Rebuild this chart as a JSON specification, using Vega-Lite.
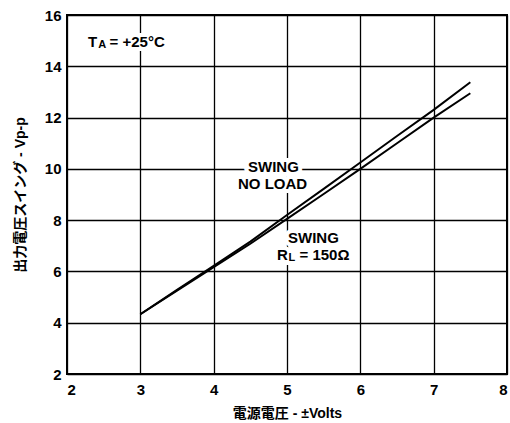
{
  "$schema": "https://vega.github.io/schema/vega-lite/v6.json",
  "width": 440,
  "height": 359,
  "autosize": {"type": "none"},
  "padding": {"left": 67, "top": 15, "right": 3, "bottom": 49},
  "background": "white",
  "config": {
    "view": {"stroke": "black", "strokeWidth": 2},
    "font": "Liberation Sans, Noto Sans CJK JP, sans-serif",
    "axis": {
      "grid": true,
      "gridColor": "black",
      "gridWidth": 1.3,
      "gridOpacity": 1,
      "domain": false,
      "ticks": false,
      "labelFont": "Liberation Sans, Noto Sans CJK JP, sans-serif",
      "labelFontWeight": "bold",
      "labelFontSize": 15,
      "labelColor": "black",
      "titleFont": "Liberation Sans, Noto Sans CJK JP, sans-serif",
      "titleFontWeight": "bold",
      "titleFontSize": 14,
      "titleColor": "black"
    }
  },
  "datasets": {
    "curves": [
      {"x": 3, "y": 4.33, "series": "NO LOAD"},
      {"x": 3.5, "y": 5.28, "series": "NO LOAD"},
      {"x": 4, "y": 6.22, "series": "NO LOAD"},
      {"x": 4.5, "y": 7.16, "series": "NO LOAD"},
      {"x": 5, "y": 8.2, "series": "NO LOAD"},
      {"x": 5.5, "y": 9.22, "series": "NO LOAD"},
      {"x": 6, "y": 10.25, "series": "NO LOAD"},
      {"x": 6.5, "y": 11.28, "series": "NO LOAD"},
      {"x": 7, "y": 12.3, "series": "NO LOAD"},
      {"x": 7.5, "y": 13.38, "series": "NO LOAD"},
      {"x": 3, "y": 4.33, "series": "RL150"},
      {"x": 3.5, "y": 5.25, "series": "RL150"},
      {"x": 4, "y": 6.17, "series": "RL150"},
      {"x": 4.5, "y": 7.08, "series": "RL150"},
      {"x": 5, "y": 8.05, "series": "RL150"},
      {"x": 5.5, "y": 9.02, "series": "RL150"},
      {"x": 6, "y": 10.0, "series": "RL150"},
      {"x": 6.5, "y": 11.0, "series": "RL150"},
      {"x": 7, "y": 12.0, "series": "RL150"},
      {"x": 7.5, "y": 12.95, "series": "RL150"}
    ],
    "labels": [
      {"x": 2.286, "y": 14.96, "label": "T"},
      {"x": 2.58, "y": 14.96, "label": "= +25°C"},
      {"x": 4.468, "y": 10.07, "label": "SWING"},
      {"x": 4.332, "y": 9.41, "label": "NO LOAD"},
      {"x": 5.014, "y": 7.32, "label": "SWING"},
      {"x": 4.864, "y": 6.64, "label": "R"},
      {"x": 5.17, "y": 6.64, "label": "= 150Ω"}
    ],
    "subs": [
      {"x": 2.425, "y": 14.83, "label": "A"},
      {"x": 5.02, "y": 6.54, "label": "L"}
    ]
  },
  "encoding": {
    "x": {
      "field": "x",
      "type": "quantitative",
      "scale": {"domain": [2, 8], "nice": false, "zero": false},
      "axis": {
        "values": [2, 3, 4, 5, 6, 7, 8],
        "title": "電源電圧 - ±Volts",
        "labelPadding": 8,
        "titlePadding": 9
      }
    },
    "y": {
      "field": "y",
      "type": "quantitative",
      "scale": {"domain": [2, 16], "nice": false, "zero": false},
      "axis": {
        "values": [2, 4, 6, 8, 10, 12, 14, 16],
        "title": "出力電圧スイング - Vp-p",
        "labelPadding": 6,
        "titlePadding": 17
      }
    }
  },
  "layer": [
    {
      "data": {"name": "curves"},
      "mark": {"type": "line", "color": "black", "strokeWidth": 2},
      "encoding": {"detail": {"field": "series", "type": "nominal"}}
    },
    {
      "data": {"name": "labels"},
      "mark": {"type": "text", "align": "left", "baseline": "middle", "fontSize": 15, "fontWeight": "bold", "font": "Liberation Sans, sans-serif", "stroke": "white", "strokeWidth": 8, "fill": "white"},
      "encoding": {"text": {"field": "label"}}
    },
    {
      "data": {"name": "subs"},
      "mark": {"type": "text", "align": "left", "baseline": "middle", "fontSize": 11, "fontWeight": "bold", "font": "Liberation Sans, sans-serif", "stroke": "white", "strokeWidth": 8, "fill": "white"},
      "encoding": {"text": {"field": "label"}}
    },
    {
      "data": {"name": "labels"},
      "mark": {"type": "text", "align": "left", "baseline": "middle", "fontSize": 15, "fontWeight": "bold", "font": "Liberation Sans, sans-serif", "color": "black"},
      "encoding": {"text": {"field": "label"}}
    },
    {
      "data": {"name": "subs"},
      "mark": {"type": "text", "align": "left", "baseline": "middle", "fontSize": 11, "fontWeight": "bold", "font": "Liberation Sans, sans-serif", "color": "black"},
      "encoding": {"text": {"field": "label"}}
    }
  ]
}
